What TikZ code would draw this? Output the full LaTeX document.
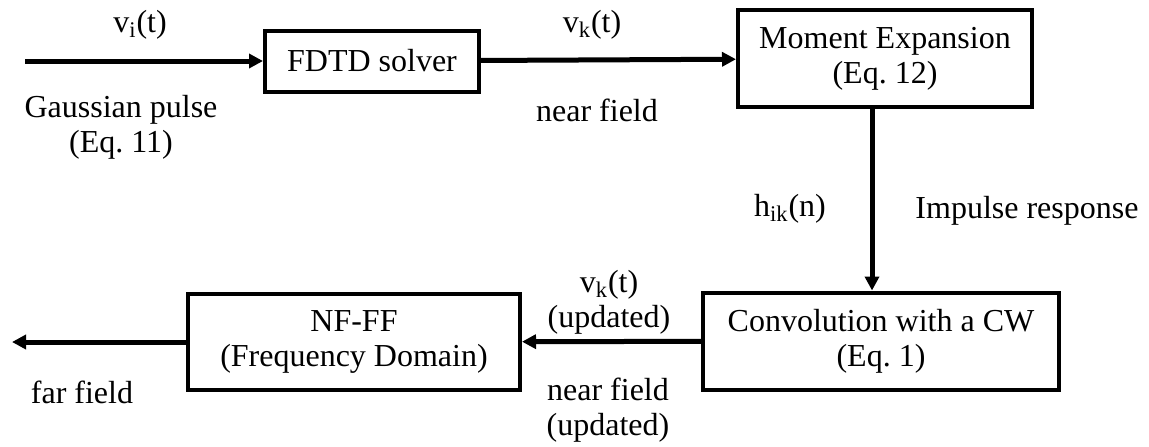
\documentclass[tikz,border=0pt]{standalone}
\usepackage{fontspec}
\setmainfont{Liberation Serif}
\usetikzlibrary{arrows.meta}
\frenchspacing

\begin{document}
\begin{tikzpicture}[x=.5pt,y=-.5pt,font=\fontsize{16}{17.5}\selectfont,
  blk/.style={draw,line width=2pt,align=center,inner sep=0pt},
  lbl/.style={align=center,inner sep=0pt},
  >={Triangle[length=7pt,width=7pt]},flow/.style={->,line width=2.5pt}]
\useasboundingbox(0,0)rectangle(1149,446);
% blocks
\node[blk,minimum width=107pt,minimum height=30.5pt](fdtd)at(372,61){FDTD solver};
\node[blk,minimum width=147pt,minimum height=48.5pt](mom)at(885,58.5){Moment Expansion\\(Eq. 12)};
\node[blk,minimum width=178pt,minimum height=48.5pt](conv)at(881,341){Convolution with a CW\\(Eq. 1)};
\node[blk,minimum width=166pt,minimum height=48pt](nf)at(354,342){NF-FF\\(Frequency Domain)};
\coordinate(in)at(25,61);\coordinate(out)at(12,342);
% connectors
\draw[flow](in)--(fdtd);\draw[flow](fdtd)--(mom);
\draw[flow]([xshift=-6.5pt]mom.south)--([xshift=-6.5pt]mom.south|-conv.north);
\draw[flow](conv)--(nf);\draw[flow](nf)--(out);
% labels
\node[lbl](vi)at(140,25){v\textsubscript{i}(t)};
\node[lbl](gp)at(121,127){Gaussian pulse\\(Eq. 11)};
\node[lbl](vk)at(592,25){v\textsubscript{k}(t)};
\node[lbl](nfl)at(597,110){near field};
\node[lbl](hik)at(790,209){h\textsubscript{ik}(n)};
\node[lbl](ir)at(1027,211){Impulse response};
\node[lbl](vku)at(609,302){v\textsubscript{k}(t)\\(updated)};
\node[lbl](nfu)at(608,410){near field\\(updated)};
\node[lbl](ff)at(82,392){far field};
\end{tikzpicture}
\end{document}
